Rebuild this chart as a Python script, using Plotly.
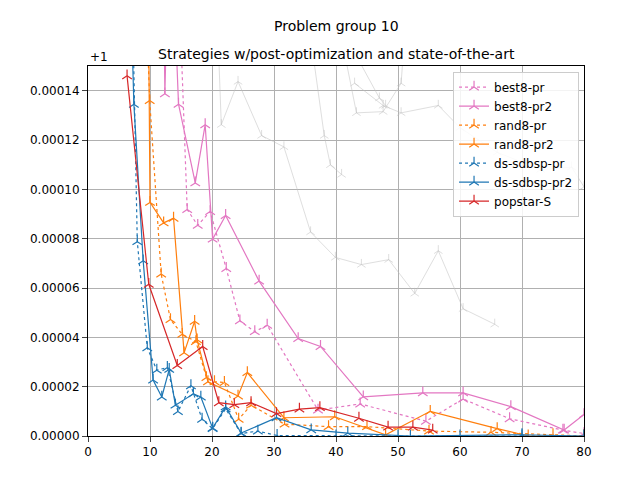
import plotly.graph_objects as go

# values are y - 1, in units of 1e-5
popstar_x = [6.3, 9.8, 14.4, 18.5, 21.1, 23.6, 26.3, 30.4, 34.1, 37.4, 43.7, 48.4, 52.4, 55.6]
popstar_y = [14.6, 6.15, 2.86, 3.63, 1.35, 1.27, 1.35, 0.91, 1.09, 1.15, 0.72, 0.36, 0.36, 0.24]

dspr2_x = [7.0, 7.4, 8.9, 10.5, 11.9, 13.1, 14.1, 17.0, 18.2, 20.1, 22.2, 24.7, 30.4, 36.0, 41.9, 52.0, 70.0, 80.0]
dspr2_y = [17.0, 13.45, 7.1, 2.27, 1.58, 2.7, 1.25, 1.71, 1.58, 0.32, 1.18, 0.12, 0.74, 0.25, 0.12, 0.0, 0.05, 0.0]

dspr_x = [7.3, 7.95, 9.56, 11.1, 12.8, 14.5, 16.6, 18.4, 20.1, 22.2, 24.7, 27.4, 30.5, 40.0, 50.0, 60.0, 70.0, 80.0]
dspr_y = [16.0, 7.88, 3.58, 2.67, 2.78, 0.99, 2.04, 0.68, 0.3, 1.1, 0.1, 0.2, 0.02, 0.0, 0.0, 0.0, 0.0, 0.0]

rpr2_x = [9.8, 10.0, 12.2, 13.8, 15.5, 17.2, 17.6, 19.35, 24.2, 25.7, 31.6, 39.8, 48.0, 55.2, 66.0, 71.0, 80.0]
rpr2_y = [16.0, 9.47, 8.64, 8.83, 3.37, 4.65, 3.9, 2.2, 1.62, 2.57, 0.74, 0.78, 0.05, 1.0, 0.3, 0.0, 0.0]

rpr_x = [9.6, 9.95, 11.8, 13.3, 15.2, 17.4, 19.1, 20.4, 22.0, 24.3, 26.3, 31.7, 38.8, 45.0, 55.0, 65.0, 75.0, 80.0]
rpr_y = [16.0, 13.6, 6.57, 4.72, 4.12, 3.83, 2.37, 2.2, 2.17, 0.68, 1.25, 0.48, 0.38, 0.38, 0.2, 0.15, 0.05, 0.0]

bpr2_x = [12.3, 12.4, 12.6, 14.2, 14.6, 17.3, 18.9, 20.1, 22.2, 27.6, 33.9, 37.5, 44.4, 54.0, 60.5, 68.2, 76.8, 80.0]
bpr2_y = [16.0, 13.87, 16.0, 16.0, 13.45, 10.26, 12.62, 7.98, 8.94, 6.28, 3.95, 3.63, 1.59, 1.75, 1.75, 1.19, 0.24, 0.87]

bpr_x = [15.0, 16.0, 17.7, 19.7, 22.3, 24.5, 26.9, 28.9, 37.1, 43.9, 54.5, 60.5, 68.0, 76.6, 80.0]
bpr_y = [16.0, 9.18, 8.54, 9.1, 6.79, 4.67, 4.23, 4.49, 1.05, 1.3, 0.6, 1.5, 0.7, 0.24, 0.1]

gray_series = [
    ([21.0, 21.5, 24.2, 28.0, 31.6, 35.9, 39.9, 44.1, 48.5, 52.7, 56.5, 60.5, 65.6],
     [16.0, 12.62, 14.37, 12.18, 11.72, 8.27, 7.24, 6.95, 7.15, 5.78, 7.51, 5.16, 4.53]),
    ([36.0, 38.1, 39.1, 40.9], [16.0, 12.18, 10.99, 10.6]),
    ([41.0, 43.3, 47.6, 50.5, 51.0], [16.0, 13.1, 13.15, 14.3, 16.0]),
    ([42.0, 47.0, 48.0], [16.0, 13.7, 13.4]),
    ([43.0, 47.6, 50.5, 56.5, 60.0, 66.0, 73.0, 78.0, 80.0], [14.3, 13.4, 13.1, 13.4, 12.5, 11.5, 10.8, 10.9, 10.1]),
]

fig = go.Figure()
for gx, gy in gray_series:
    fig.add_trace(go.Scatter(x=gx, y=[v * 1e-5 for v in gy], mode="lines+markers", showlegend=False,
                             line=dict(color="rgba(190,190,190,0.5)", width=1),
                             marker=dict(symbol="y-up", size=7, line=dict(color="rgba(190,190,190,0.5)", width=1))))

series = [
    ("cmcs-3comp", [], [], "#2ca02c", "solid"),
    ("best8-pr", bpr_x, bpr_y, "#e377c2", "dot"),
    ("best8-pr2", bpr2_x, bpr2_y, "#e377c2", "solid"),
    ("rand8-pr", rpr_x, rpr_y, "#ff7f0e", "dot"),
    ("rand8-pr2", rpr2_x, rpr2_y, "#ff7f0e", "solid"),
    ("ds-sdbsp-pr", dspr_x, dspr_y, "#1f77b4", "dot"),
    ("ds-sdbsp-pr2", dspr2_x, dspr2_y, "#1f77b4", "solid"),
    ("popstar-S", popstar_x, popstar_y, "#d62728", "solid"),
]
for name, xs, ys, col, dash in series:
    fig.add_trace(go.Scatter(x=xs, y=[v * 1e-5 for v in ys], name=name, mode="lines+markers",
                             line=dict(color=col, width=1.2, dash=dash),
                             marker=dict(symbol="y-up", size=8, line=dict(color=col, width=1.2))))

fig.update_layout(
    width=640, height=480, plot_bgcolor="white", paper_bgcolor="white",
    margin=dict(l=80, r=64, t=58, b=52),
    font=dict(family="DejaVu Sans", size=12, color="black"),
    legend=dict(x=0.99, y=0.985, xanchor="right", yanchor="top", bordercolor="#cccccc", borderwidth=1,
                bgcolor="rgba(255,255,255,0.85)", font=dict(size=12)),
    annotations=[
        dict(text="Problem group 10", x=0.5, y=1.0, xref="paper", yref="paper", yanchor="bottom",
             yshift=30, showarrow=False, font=dict(size=14)),
        dict(text="Strategies w/post-optimization and state-of-the-art", x=0.5, y=1.0, xref="paper",
             yref="paper", yanchor="bottom", yshift=2, showarrow=False, font=dict(size=14)),
        dict(text="+1", x=0, y=1.0, xref="paper", yref="paper", xanchor="left", yanchor="bottom",
             showarrow=False, font=dict(size=12)),
    ],
)
fig.update_xaxes(range=[0, 80], dtick=10, showgrid=True, gridcolor="#b0b0b0", zeroline=False,
                 showline=True, linecolor="black", mirror=True, ticks="outside")
fig.update_yaxes(range=[0, 0.00015], dtick=0.00002, tickformat=".5f", showgrid=True, gridcolor="#b0b0b0",
                 zeroline=False, showline=True, linecolor="black", mirror=True, ticks="outside")
fig.write_html("out.html")
